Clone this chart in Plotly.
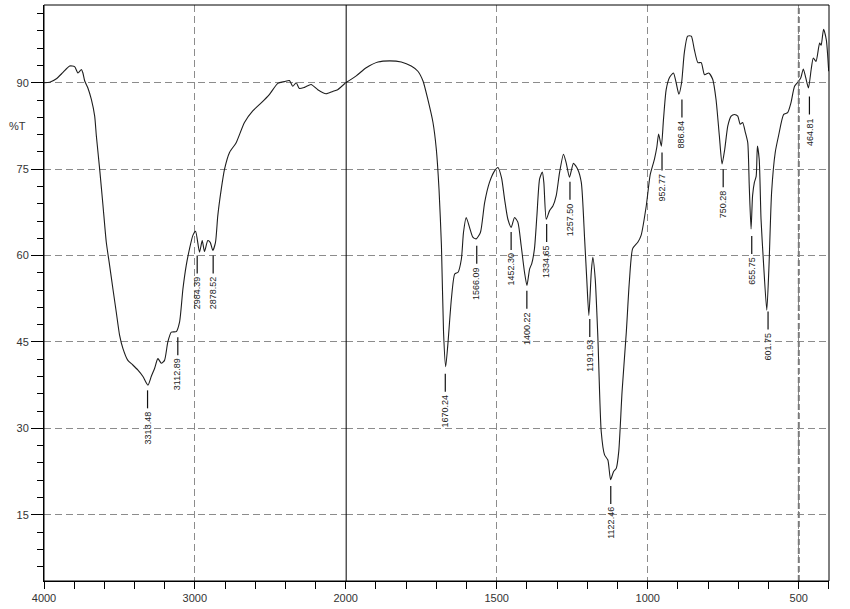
import plotly.graph_objects as go

# ---------------- data (wavenumber cm-1, %T) ----------------
wn_high = [4000, 3962, 3918, 3874, 3830, 3797, 3775, 3752, 3742, 3730, 3709, 3686, 3664,
           3653, 3631, 3609, 3587, 3565, 3543, 3521, 3499, 3477, 3444, 3411, 3377, 3344,
           3311, 3289, 3267, 3245, 3222, 3201, 3179, 3156, 3123, 3101, 3079, 3057, 3035,
           3013, 2995, 2969, 2951, 2936, 2914, 2898, 2881, 2863, 2848, 2825, 2803, 2770,
           2726, 2671, 2616, 2560, 2505, 2450, 2406, 2373, 2351, 2328, 2307, 2273, 2229,
           2185, 2130, 2086, 2053, 2000]
t_high = [90.0, 90.1, 90.7, 91.8, 92.9, 92.8, 91.7, 92.3, 91.7, 90.3, 89.1, 87.1, 84.2,
          80.8, 75.0, 68.7, 62.3, 58.3, 54.2, 50.2, 46.2, 43.9, 41.8, 41.0, 40.1, 39.0,
          37.5, 39.0, 40.4, 42.1, 41.3, 41.8, 45.0, 46.7, 46.8, 48.5, 54.2, 58.3, 61.2,
          63.5, 64.2, 60.6, 62.6, 60.7, 62.6, 62.3, 60.9, 62.3, 66.9, 71.5, 75.0, 77.9,
          79.6, 83.1, 85.1, 86.5, 88.0, 89.9, 90.2, 90.4, 89.4, 90.0, 89.0, 89.2, 89.7,
          88.8, 88.1, 88.5, 88.8, 90.0]

wn_low = [2000, 1965, 1932, 1893, 1854, 1816, 1783, 1761, 1744, 1728, 1711, 1700, 1691,
          1683, 1676, 1669, 1662, 1650, 1639, 1628, 1617, 1610, 1601, 1590, 1579, 1568,
          1554, 1540, 1524, 1507, 1496, 1484, 1474, 1463, 1452, 1441, 1430, 1419, 1408,
          1400, 1391, 1384, 1375, 1367, 1358, 1349, 1344, 1336, 1325, 1314, 1303, 1292,
          1279, 1270, 1259, 1246, 1232, 1220, 1209, 1202, 1195, 1187, 1182, 1174, 1165,
          1154, 1143, 1132, 1123, 1113, 1104, 1096, 1085, 1071, 1061, 1050, 1033, 1022,
          1005, 992, 978, 970, 964, 955, 948, 939, 928, 915, 906, 897, 888, 879, 868,
          856, 846, 834, 823, 812, 798, 785, 774, 763, 754, 745, 735, 724, 713, 702,
          694, 686, 677, 669, 664, 658, 653, 647, 641, 637, 631, 625, 617, 606, 599,
          590, 578, 567, 550, 537, 526, 514, 500, 493, 485, 477, 468, 459, 452, 443,
          431, 426, 418, 409, 401]
t_low = [90.0, 91.2, 92.6, 93.6, 93.8, 93.6, 92.9, 92.0, 90.3, 87.1, 83.1, 78.5, 71.5,
         61.7, 46.7, 40.7, 44.4, 52.5, 56.8, 57.1, 59.4, 64.0, 66.6, 64.9, 63.2, 62.9,
         64.0, 69.2, 72.7, 74.7, 75.3, 73.5, 69.8, 66.3, 64.9, 66.6, 65.8, 61.7, 57.1,
         54.8, 57.7, 58.6, 61.2, 66.9, 73.3, 74.5, 72.7, 66.3, 67.8, 68.6, 70.4, 74.4,
         77.6, 76.1, 73.6, 76.0, 75.0, 72.7, 62.9, 56.0, 49.6, 57.1, 59.7, 56.0, 45.6,
         29.4, 25.4, 24.5, 21.1, 22.5, 23.1, 26.0, 36.4, 46.7, 55.4, 61.2, 62.3, 63.5,
         68.6, 74.0, 76.7, 78.8, 81.1, 79.0, 83.6, 88.8, 90.9, 91.7, 90.0, 88.0, 90.0, 95.2, 98.1,
         98.1, 95.8, 93.5, 93.5, 91.4, 91.7, 90.6, 87.1, 80.8, 75.9, 78.5, 82.5, 84.2, 84.5, 84.2,
         82.8, 83.1, 81.4, 79.6, 72.1, 64.6, 70.4, 72.7, 73.8, 79.0, 76.7, 66.3, 58.9, 50.5, 57.7,
         71.0, 77.9, 80.8, 84.5, 84.8, 86.5, 89.4, 90.3, 90.9, 92.4, 90.9, 89.1, 92.3, 94.3, 93.7,
         96.9, 96.5, 99.3, 97.5, 92.0]

peak_wn = [3313.48, 3112.89, 2984.39, 2878.52, 1670.24, 1566.09, 1452.30, 1400.22,
           1334.65, 1257.50, 1191.93, 1122.46, 952.77, 886.84, 750.28, 655.75, 601.75, 464.81]
peak_label = ["3313.48", "3112.89", "2984.39", "2878.52", "1670.24", "1566.09", "1452.30",
              "1400.22", "1334.65", "1257.50", "1191.93", "1122.46", "952.77", "886.84",
              "750.28", "655.75", "601.75", "464.81"]
peak_T = [36.6, 45.8, 60.0, 60.0, 39.5, 61.7, 64.1, 53.9, 65.5, 72.8, 49.0, 20.0,
          77.9, 87.1, 75.0, 63.4, 50.3, 87.6]

split_wn = 2000
y_range = [3.5, 103.5]

# ---------------- figure ----------------
fig = go.Figure()
line_style = dict(color="#1e1e1e", width=1.1, shape="spline", smoothing=0.6)
fig.add_trace(go.Scatter(x=wn_high, y=t_high, mode="lines", line=line_style,
                         xaxis="x", yaxis="y", hoverinfo="x+y", showlegend=False))
fig.add_trace(go.Scatter(x=wn_low, y=t_low, mode="lines", line=line_style,
                         xaxis="x2", yaxis="y", hoverinfo="x+y", showlegend=False))

shapes = []
annotations = []
for w, lab, t in zip(peak_wn, peak_label, peak_T):
    xr = "x" if w >= split_wn else "x2"
    shapes.append(dict(type="line", xref=xr, yref="y", ysizemode="pixel", yanchor=t,
                       x0=w, x1=w, y0=0, y1=-18, line=dict(color="#111", width=1.2)))
    annotations.append(dict(x=w, y=t, xref=xr, yref="y", text=lab, showarrow=False,
                            textangle=-90, xanchor="center", yanchor="top", yshift=-19,
                            font=dict(family="Liberation Sans, Arial", size=9, color="#222")))

# special vertical guide lines
shapes.append(dict(type="line", xref="x2", yref="paper", x0=split_wn, x1=split_wn, y0=0, y1=1,
                   line=dict(color="black", width=2)))
shapes.append(dict(type="line", xref="x2", yref="paper", x0=500, x1=500, y0=0, y1=1,
                   line=dict(color="#7a7a7a", width=2, dash="6px,3px")))
shapes.append(dict(type="rect", xref="paper", yref="paper", x0=0, x1=1, y0=0, y1=1,
                   line=dict(color="black", width=1)))

annotations.append(dict(x=-0.034, y=0.79, xref="paper", yref="paper", text="%T",
                        showarrow=False, xanchor="center", yanchor="middle",
                        font=dict(family="Liberation Sans, Arial", size=11, color="#333")))

tickfont = dict(family="Liberation Sans, Arial", size=11, color="#333")
grid = dict(showgrid=True, gridcolor="#8c8c8c", gridwidth=1, griddash="7px,4px")
split = 0.3843

fig.update_layout(
    width=850, height=609,
    margin=dict(l=44, r=21, t=5, b=26),
    paper_bgcolor="white", plot_bgcolor="white",
    showlegend=False,
    xaxis=dict(domain=[0, split], range=[4000, 2000], anchor="y",
               tickmode="array", tickvals=[4000, 3000, 2000], ticktext=["4000", "3000", "2000"],
               ticks="outside", ticklen=7, tickcolor="black", tickwidth=1,
               minor=dict(tickmode="linear", tick0=0, dtick=200, ticks="outside", ticklen=7,
                          tickcolor="black", showgrid=False),
               showline=True, linecolor="black", linewidth=1, zeroline=False,
               tickfont=tickfont, **grid),
    xaxis2=dict(domain=[split, 1], range=[2000, 400], anchor="y",
                tickmode="array", tickvals=[1500, 1000, 500], ticktext=["1500", "1000", "500"],
                ticks="outside", ticklen=7, tickcolor="black", tickwidth=1,
                minor=dict(tickmode="linear", tick0=0, dtick=100, ticks="outside", ticklen=7,
                           tickcolor="black", showgrid=False),
                showline=True, linecolor="black", linewidth=1, zeroline=False,
                tickfont=tickfont, **grid),
    yaxis=dict(range=y_range, anchor="x", tickmode="linear", tick0=0, dtick=15,
               ticks="outside", ticklen=12, tickcolor="black",
               minor=dict(tickmode="linear", tick0=0, dtick=3, ticks="outside", ticklen=6,
                          tickcolor="black", showgrid=False),
               showline=True, linecolor="black", linewidth=1, zeroline=False,
               tickfont=tickfont, **grid),
    shapes=shapes,
    annotations=annotations,
)

fig.write_html("out.html", config={"displayModeBar": False},
               post_script="document.body.style.margin='0';document.body.style.overflow='hidden';")
